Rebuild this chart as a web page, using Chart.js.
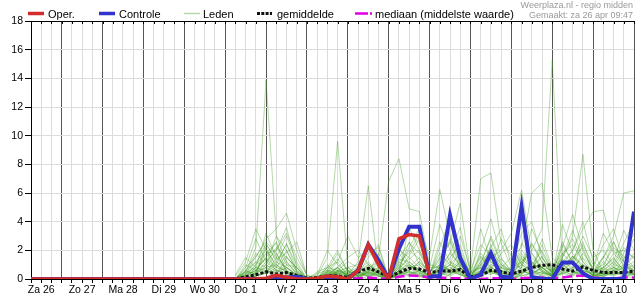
<!DOCTYPE html>
<html><head><meta charset="utf-8">
<script src="https://cdn.jsdelivr.net/npm/chart.js@4"></script>
<style>html,body{margin:0;padding:0;background:#fff;overflow:hidden}canvas{display:block}</style>
</head><body>
<canvas id="c" width="635" height="300"></canvas>
<script>
// hours since 26 apr 00:00
const hours = [6,12,18,24,30,36,42,48,54,60,66,72,78,84,90,96,102,108,114,120,126,132,138,144,150,156,162,168,174,180,186,192,198,204,210,216,222,228,234,240,246,252,258,264,270,276,282,288,294,300,306,312,318,324,330,336,342,348,354,360];
const dayLabels = ['Za 26','Zo 27','Ma 28','Di 29','Wo 30','Do 1','Vr 2','Za 3','Zo 4','Ma 5','Di 6','Wo 7','Do 8','Vr 9','Za 10'];
const yTicks = [0,2,4,6,8,10,12,14,16,18];

const oper = [0,0,0,0,0,0,0,0,0,0, 0,0,0,0,0,0,0,0,0,0, 0,0,0,0.05,0.25,0.12,0,0,0.05,0.2, 0.15,0,0.6,2.4,1.0,0,2.8,3.1,3.0,0.25];
const controle = [0,0,0,0,0,0,0,0,0,0, 0,0,0,0,0,0,0,0,0,0, 0,0,0,0,0,0.1,0.15,0,0,0, 0,0,0.6,2.4,1.3,0,2.1,3.65,3.65,0.2, 0.2,4.45,1.45,0,0.3,1.8,0.15,0.1,5.05,0.15, 0,0,1.15,1.15,0.4,0,0,0,0,4.7];
const gemiddelde = [0,0,0,0,0,0,0,0,0,0, 0,0,0,0,0,0,0,0,0,0, 0.02,0.15,0.3,0.5,0.35,0.45,0.25,0.05,0.1,0.22, 0.22,0.12,0.5,0.75,0.5,0.15,0.45,0.75,0.7,0.45, 0.55,0.55,0.65,0.15,0.25,0.6,0.5,0.35,0.55,0.8, 0.95,1.0,0.7,0.55,0.85,0.6,0.45,0.45,0.45,0.55];
const mediaan = [0,0,0,0,0,0,0,0,0,0, 0,0,0,0,0,0,0,0,0,0, 0,0,0,0,0,0,0,0,0,0, 0,0,0.05,0.1,0.05,0,0.15,0.25,0.2,0.1, 0.1,0.05,0.05,0,0,0.05,0.05,0,0.05,0.1, 0.1,0.05,0.1,0.2,0.25,0.1,0.05,0.05,0.1,0.1];

// ensemble members, values from hour 126 onwards (earlier values are 0)
const memberStart = 20;
const leden = [
[0,0.5,2.2,13.9,3.0,1.2,0.4,0,0,0.3,0.8,0.2,0,0.5,0.3,0,1.2,0.8,0.3,0,0.4,1.0,0.5,0,0.3,0.6,0.2,0,0.4,0.9,0.5,0.2,0.3,0.8,0.4,0.1,0.3,0.5,0.2,0.4],
[0,0,0.3,1.0,0.5,0.8,0.2,0,0.2,1.5,9.6,0.8,0.2,0,0.6,0,0.5,1.2,0.6,0,0,0.3,0.8,0,0.5,1.4,0.6,0.2,0,0.5,1.2,0.3,0,0.4,1.0,0.2,0.1,0.6,0.3,0],
[0,0.2,0.6,1.5,0.8,2.0,0.5,0,0,0.2,0.5,0.3,1.2,6.5,0.6,0,2.0,1.5,0.8,0.1,0.6,1.8,1.0,0,0,0.8,0.4,0,1.5,0.6,0.2,0,0.8,1.6,0.5,0,0.2,0.4,0.9,0.6],
[0,0,0,0.6,0.3,0.5,0.2,0,0.5,0.8,1.2,3.0,1.5,2.0,1.5,6.8,8.4,4.9,4.7,1.0,0.8,0.5,1.2,0.2,1.0,0.6,0.3,0,0.5,1.1,0.6,0.3,1.8,1.0,0.3,0,0.6,1.2,0.5,0.3],
[0,0,0.4,0.8,1.8,0.6,0,0,0,0.4,0.2,0,0.5,1.0,0.4,0,0.8,2.2,3.5,1.6,6.25,3.0,1.2,0,0.6,1.8,0.5,0,0.3,0.8,1.5,0.4,0.6,0.3,0.8,0.2,0.5,0.3,0.6,0.4],
[0,0.3,1.0,2.5,1.2,0.8,0.3,0,0,0,0.6,0.4,0,0.8,0.2,0,0.4,0.6,1.2,0.5,1.5,2.5,5.3,0.5,0.8,0.4,1.0,0.6,0.2,0.4,0.8,0.2,1.5,2.8,1.2,0.4,0.2,0.8,0.4,0.6],
[0,0,0.2,0.5,0.3,1.5,0.8,0,0,0.3,0.5,0.2,0.4,0.2,0,0,0.3,0.5,0.4,0,0.2,0.5,1.2,0.6,7.0,7.4,2.5,0.8,1.2,0.6,0.4,0.3,1.0,0.5,0.2,0,0.8,1.4,0.6,0.3],
[0,0.6,1.2,0.8,0.4,0.2,0,0,0,0,0.3,0.6,0.2,0.3,0.8,0,0.5,0.3,0.8,0.2,0.6,0.4,0.8,0,0.5,1.5,2.0,3.2,6.2,1.8,0.6,0.2,0.8,1.4,2.2,0.5,0.3,0.6,1.0,0.4],
[0,0,0.5,1.8,2.5,1.0,0.4,0,0.2,0.5,0.2,0,0.3,0.6,0.5,0,0.6,0.4,0.2,0.3,0.5,1.0,0.6,0.2,0.4,1.0,0.8,1.5,2.2,6.0,6.7,1.5,0.8,0.4,0.6,0.3,0.4,0.2,0.5,0.8],
[0,0.4,0.8,0.5,1.0,2.5,0.6,0,0,0.2,0,0.5,0.8,0.4,0.2,0,0.3,1.0,0.5,0,0.8,0.6,0.3,0,0.6,0.8,0.4,0.5,1.2,2.0,3.5,15.3,1.0,0.5,0.3,0.2,0.4,0.6,0.3,0.2],
[0,0,0.2,0.4,0.8,0.6,0.2,0,0.4,0.6,0.3,0,0.2,0.5,0.8,0,0.4,0.2,0.6,0.2,1.0,0.5,0.3,0,0.2,0.6,0.3,0.2,0.4,0.8,1.0,0.5,1.5,3.0,8.7,2.0,0.5,0.8,0.4,0.6],
[0,0.3,0.6,0.4,1.5,0.8,0.3,0,0,0.5,0.8,0.2,0.4,0.2,0.5,0,0.2,0.8,0.6,0.3,0.6,1.2,0.8,0,0.3,0.5,0.8,0.4,0.6,0.3,0.8,0.6,1.0,2.0,3.5,4.7,4.8,2.0,1.2,0.5],
[0,0,0.4,1.2,0.6,0.4,0.2,0,0,0.3,0.4,0.6,0.2,0.4,0.3,0,0.6,1.0,0.4,0.2,0.4,0.2,0.6,0,0.4,0.8,0.5,0.2,0.5,0.4,0.8,0.3,0.5,0.8,1.0,0.6,1.5,3.0,6.0,6.15],
[0,0.8,1.5,2.8,3.5,4.6,2.0,0.2,0,0.4,0.6,0.3,0,0.2,0.6,0,1.0,0.5,0.3,0,0.5,0.8,0.4,0,0.8,0.5,0.2,0,0.3,1.2,0.5,0.2,0.4,1.6,0.8,0.3,0.2,0.5,0.8,1.2],
[0.2,1.2,3.5,2.0,1.0,0.5,0.3,0,0,0.2,0.5,0.8,0.3,0.5,0.2,0,0.4,0.6,0.2,0,0.3,0.6,1.0,0.2,1.2,2.8,1.0,0.3,0.8,0.4,0.2,0,0.5,0.3,0.6,0.4,0.8,1.5,0.6,0.3],
[0,0.2,0.8,3.2,1.5,3.0,1.2,0,0,0.6,1.8,0.5,0.2,2.2,0.8,0,1.5,2.5,1.8,0.5,1.2,0.6,0.3,0,2.0,4.2,1.5,0.5,1.0,2.5,1.2,0.4,2.2,4.5,2.0,0.6,1.0,2.2,1.6,0.8],
[0,0.5,1.8,1.0,2.2,1.5,0.8,0,0.3,2.0,1.0,0.4,0.5,0.8,1.2,0,2.8,3.2,2.5,0.8,3.8,2.0,0.8,0,1.5,0.8,2.8,1.6,0.6,1.0,2.0,0.5,1.0,1.2,3.0,1.5,2.0,1.0,2.5,4.0],
[0,0,0.3,2.2,0.8,1.6,0.5,0,0,0.2,0.8,1.5,2.0,1.0,0.4,0,1.2,1.8,3.2,0.6,0.5,1.5,2.4,0.2,3.5,1.2,0.6,0.2,2.5,1.5,0.8,0.3,3.8,1.8,0.8,0.2,1.5,2.6,0.8,1.8],
[0,1.0,0.6,1.5,2.6,0.4,0.2,0,0,1.0,0.3,0,0.6,1.8,2.2,0,0.6,2.6,1.0,0.3,2.2,4.2,1.6,0.4,0.8,2.2,3.5,1.0,0.8,3.5,1.8,0.6,1.2,0.8,1.5,0.8,3.2,1.8,1.0,0.5],
[0.3,1.5,0.8,0.6,1.2,2.4,1.0,0,0,0.4,1.2,0.2,0,0.6,1.0,0,0.8,1.4,2.0,0.4,1.8,1.0,3.0,0.6,2.4,1.6,0.5,0.8,3.2,4.0,1.5,0.5,2.6,1.0,2.4,1.0,0.5,1.2,3.4,2.0],
[0,0.4,1.2,2.0,0.5,1.0,0.8,0,0,0,0.5,0.8,1.0,2.6,1.0,0,2.2,1.0,0.5,0,1.0,0.6,2.0,0.3,1.0,3.0,1.2,0.4,1.8,0.6,2.8,0.8,1.8,2.4,1.2,0.4,0.8,0.4,1.4,2.8],
[0,0,0.5,0.8,1.0,0.4,0.2,0,0,0.3,0.2,0,0.2,0.4,0.5,0,0.6,0.8,1.5,0.3,0.8,0.4,0.6,0,0.5,0.3,0.8,0.4,1.0,0.6,0.4,0.2,0.6,1.2,0.6,0.3,0.5,0.8,0.6,1.0],
[0,0.6,0.3,0.4,0.6,0.3,0.1,0,0,0.2,0.4,0.3,0.5,0.3,0.2,0,0.4,0.3,0.6,0.2,0.3,0.6,0.4,0,0.3,0.6,0.4,0.2,0.6,0.3,0.5,0.2,0.4,0.6,0.3,0.2,0.4,0.3,0.5,0.3],
[0,0.2,1.0,1.8,2.0,3.2,1.5,0.3,0,0.8,0.6,0.3,0.4,1.0,0.6,0,1.8,0.8,1.0,0.4,1.4,2.6,0.8,0,1.2,2.0,1.0,0.5,1.4,0.8,1.6,0.4,1.2,2.0,4.0,1.2,0.6,1.8,2.0,1.5],
[0,0,0.2,0.6,0.4,0.8,0.3,0,0,0,0.3,0.2,0.6,0.2,0.4,0,0.3,0.5,0.2,0,0.4,0.3,0.8,0,0.6,0.4,0.3,0,0.2,0.5,0.3,0.1,0.4,0.2,0.5,0.1,0.3,0.6,0.2,0.4],
[0,0.8,2.8,1.2,2.0,3.6,0.8,0,0,0.5,1.4,0.6,0.3,1.5,2.4,0,1.0,2.0,1.4,0.3,2.6,1.2,0.5,0,1.8,0.8,1.4,0.6,2.0,1.2,0.6,0.2,1.4,0.6,1.8,0.8,2.4,3.5,1.2,0.6],
[0,0.3,1.6,2.6,1.8,0.5,0.2,0,0,0.8,2.0,0.5,0.2,0.6,0.4,0,0.6,1.6,2.8,0.8,0.8,1.8,3.6,0.4,1.6,0.6,1.8,2.4,1.0,0.5,2.4,0.6,0.8,1.6,1.0,0.3,1.2,0.6,1.8,3.2],
[0,0.2,0.6,1.0,3.0,2.0,0.6,0,0,0.2,0.6,1.2,0.8,0.4,1.8,0,0.4,3.6,2.0,0.5,1.0,0.6,1.4,0.2,0.6,1.2,0.6,0.2,0.8,2.4,1.2,0.4,1.6,3.4,1.4,0.5,0.8,2.6,1.2,0.8],
[0,0.5,0.4,2.4,1.4,1.8,2.6,0.2,0,0.3,0.8,0.2,0.6,1.2,0.3,0,1.4,1.2,0.6,0.2,0.8,2.8,1.0,0,1.0,1.8,0.8,0.6,1.6,1.0,0.8,0.3,2.4,1.2,0.6,0.4,1.6,0.8,2.2,1.4],
[0,0,0.8,1.4,0.6,1.2,0.4,0,0,0.6,0.4,0.2,0.8,0.6,1.2,0,0.8,0.6,1.2,0.4,0.6,1.0,1.8,0.2,0.4,2.4,0.6,0.3,1.2,1.8,0.8,0.2,1.0,1.4,2.6,0.6,0.4,1.0,0.8,1.6]
];

const FONT = '"Liberation Sans", Arial, sans-serif';
const RED = 'rgb(210,45,45)', BLUE = 'rgb(50,50,205)', MAG = 'rgb(225,0,225)';
const MEMBER = 'rgba(60,155,30,0.38)';

const pts = arr => arr.map((v,i) => ({x: hours[i], y: v}));
const datasets = [
  {label:'Oper.', data: pts(oper), borderColor: RED, borderWidth: 3.5, order: 0},
  {label:'Controle', data: pts(controle), borderColor: BLUE, borderWidth: 4, order: 1},
  {label:'gemiddelde', data: pts(gemiddelde), borderColor: '#111', borderWidth: 3, borderDash:[3,2], order: 3},
  {label:'mediaan', data: pts(mediaan), borderColor: MAG, borderWidth: 2.5, borderDash:[10,4], order: 2}
];
leden.forEach(m => datasets.push({label:'Leden', data: m.map((v,k)=>({x: hours[memberStart+k], y: v})), borderColor: MEMBER, borderWidth: 1, order: 10}));
datasets.forEach(d => { d.pointRadius = 0; d.tension = 0; d.fill = false; d.borderCapStyle = 'butt'; });

const deco = {
  id: 'deco',
  beforeDatasetsDraw(chart) {
    const {ctx, chartArea: a, scales: {x}} = chart;
    ctx.save();
    ctx.strokeStyle = '#000'; ctx.lineWidth = 1;
    ctx.beginPath();
    ctx.moveTo(a.left, a.top + 0.5); ctx.lineTo(a.right, a.top + 0.5);
    x.ticks.forEach(t => {
      const px = Math.round(x.getPixelForValue(t.value)) + 0.5;
      ctx.moveTo(px, a.top); ctx.lineTo(px, a.top + 3);
    });
    ctx.stroke();
    ctx.restore();
  },
  afterDraw(chart) {
    const ctx = chart.ctx;
    ctx.save();
    const items = [
      {x1:28, x2:44, c:RED, w:3.5, d:[], t:'Oper.', tx:48},
      {x1:99, x2:115, c:BLUE, w:3.5, d:[], t:'Controle', tx:119},
      {x1:184, x2:200, c:'#b5d9a8', w:1.5, d:[], t:'Leden', tx:203},
      {x1:257, x2:272, c:'#111', w:3, d:[3,1.3], t:'gemiddelde', tx:277},
      {x1:355, x2:372, c:MAG, w:2.5, d:[13,2], t:'mediaan (middelste waarde)', tx:375}
    ];
    ctx.font = '11px ' + FONT;
    ctx.textBaseline = 'alphabetic';
    items.forEach(it => {
      ctx.beginPath();
      ctx.strokeStyle = it.c; ctx.lineWidth = it.w; ctx.setLineDash(it.d);
      ctx.moveTo(it.x1, 13.5); ctx.lineTo(it.x2, 13.5); ctx.stroke();
      ctx.setLineDash([]);
      ctx.fillStyle = '#000'; ctx.textAlign = 'left';
      ctx.fillText(it.t, it.tx, 17.5);
    });
    ctx.fillStyle = '#999'; ctx.textAlign = 'right';
    ctx.font = '9px ' + FONT;
    ctx.fillText('Weerplaza.nl - regio midden', 633, 7.5);
    ctx.fillText('Gemaakt: za 26 apr 09:47', 633, 17.7);
    ctx.restore();
  }
};

new Chart(document.getElementById('c'), {
  type: 'line',
  data: { datasets },
  options: {
    responsive: false, animation: false, devicePixelRatio: 1,
    layout: { padding: { top: 21, right: 1, left: 0, bottom: 0 } },
    plugins: { legend: { display: false }, tooltip: { enabled: false } },
    scales: {
      x: {
        type: 'linear', min: 6, max: 360,
        afterFit: s => { s.height = 21; },
        ticks: {
          stepSize: 6, autoSkip: false, maxRotation: 0, minRotation: 0, maxTicksLimit: 200,
          color: '#000', font: { size: 10.5, family: FONT }, padding: 1,
          callback: v => (v % 24 === 12 ? dayLabels[(v - 12) / 24] : '')
        },
        grid: {
          color: c => (c.tick && c.tick.value % 24 === 0 ? '#555' : '#dcdcdc'),
          tickColor: '#000', tickLength: 4
        },
        border: { color: '#000', width: 1 }
      },
      y: {
        min: 0, max: 18,
        afterFit: s => { s.width = 31; },
        afterBuildTicks: s => { s.ticks = yTicks.map(v => ({value: v})); },
        ticks: { color: '#000', font: { size: 10.5, family: FONT }, padding: 2 },
        grid: { color: '#dcdcdc', tickColor: '#000', tickLength: 6 },
        border: { color: '#000', width: 1 }
      }
    }
  },
  plugins: [deco]
});
</script>
</body></html>
